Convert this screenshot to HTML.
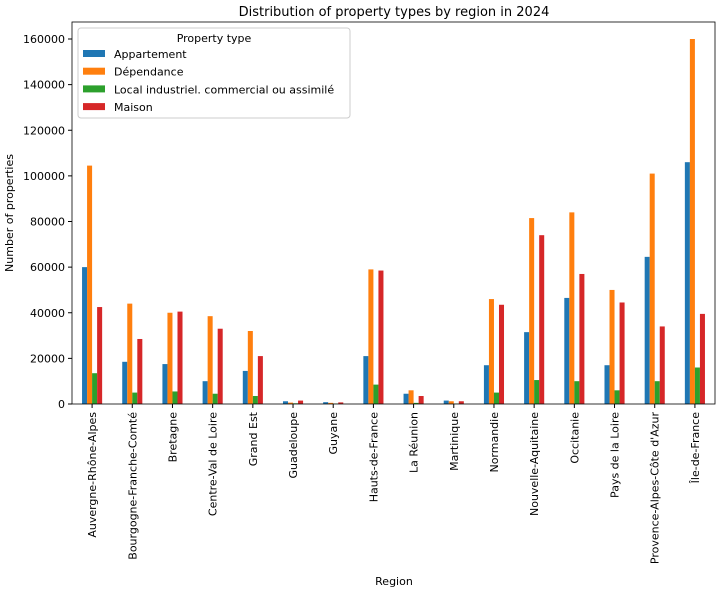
<!DOCTYPE html>
<html><head><meta charset="utf-8"><style>
body{margin:0;background:#fff;font-family:"Liberation Sans","DejaVu Sans",sans-serif;}
svg text{font-family:"DejaVu Sans","Liberation Sans",sans-serif;}
</style></head><body>
<svg id="chart" width="722" height="593" xmlns="http://www.w3.org/2000/svg">
<text x="394" y="16" font-size="13" text-anchor="middle">Distribution of property types by region in 2024</text>
<g id="bars"></g>
<g id="axes"></g>
<text x="394" y="585" font-size="11" text-anchor="middle">Region</text>
<text transform="translate(13,213) rotate(-90)" font-size="11" text-anchor="middle">Number of properties</text>
<g>
<rect x="78" y="28" width="272" height="90" rx="3" fill="#fff" fill-opacity="0.8" stroke="#ccc"/>
<text x="214" y="42" font-size="11" text-anchor="middle">Property type</text>
<g id="legend-items"></g>
</g>
</svg>
<script>
const categories=["Auvergne-Rhône-Alpes","Bourgogne-Franche-Comté","Bretagne","Centre-Val de Loire","Grand Est","Guadeloupe","Guyane","Hauts-de-France","La Réunion","Martinique","Normandie","Nouvelle-Aquitaine","Occitanie","Pays de la Loire","Provence-Alpes-Côte d'Azur","Île-de-France"];
const seriesNames=["Appartement","Dépendance","Local industriel. commercial ou assimilé","Maison"];
const appartement=[60000,18500,17500,10000,14500,1200,800,21000,4500,1500,17000,31500,46500,17000,64500,106000];
const dependance=[104500,44000,40000,38500,32000,600,500,59000,6000,1200,46000,81500,84000,50000,101000,160000];
const local=[13500,5000,5500,4500,3500,300,200,8500,500,200,5000,10500,10000,6000,10000,16000];
const maison=[42500,28500,40500,33000,21000,1500,700,58500,3500,1200,43500,74000,57000,44500,34000,39500];
const yTicks=[0,20000,40000,60000,80000,100000,120000,140000,160000];
const colors=["#1f77b4","#ff7f0e","#2ca02c","#d62728"];
const series=[appartement,dependance,local,maison];
const L=72,R=715,T=22,B=404,yMax=160000,y0px=39;
const NS="http://www.w3.org/2000/svg";
const step=(R-L)/categories.length;
function xc(i){return L+step*(i+0.5);}
function y(v){return B-(B-y0px)*v/yMax;}
function mk(tag,attrs,parent){const e=document.createElementNS(NS,tag);for(const k in attrs)e.setAttribute(k,attrs[k]);parent.appendChild(e);return e;}
const bars=document.getElementById('bars'),axes=document.getElementById('axes');
const bw=step*0.5/4;
series.forEach((s,si)=>{s.forEach((v,i)=>{
 const r=mk('rect',{x:xc(i)-step*0.25+si*bw,y:y(v),width:bw,height:B-y(v),fill:colors[si]},bars);
 
 
});});
mk('rect',{x:L,y:T,width:R-L,height:B-T,fill:'none',stroke:'#000','stroke-width':0.8},axes);
yTicks.forEach(t=>{
 mk('line',{x1:L-4,x2:L,y1:y(t),y2:y(t),stroke:'#000'},axes);
 const tx=mk('text',{x:L-7,y:y(t)+4,'font-size':11,'text-anchor':'end'},axes);tx.textContent=t;
 
 
});
categories.forEach((c,i)=>{
 mk('line',{x1:xc(i),x2:xc(i),y1:B,y2:B+4,stroke:'#000'},axes);
 const tx=mk('text',{transform:`translate(${xc(i)+4},${B+8}) rotate(-90)`,'font-size':11,'text-anchor':'end'},axes);tx.textContent=c;
 
 
});
const li=document.getElementById('legend-items');
seriesNames.forEach((n,i)=>{
 const g=mk('g',{},li);
 
 
 mk('rect',{x:83,y:50+i*17.7,width:22,height:7,fill:colors[i]},g);
 const t=mk('text',{x:114,y:58+i*17.7,'font-size':11},g);t.textContent=n;
});
</script>
</body></html>
